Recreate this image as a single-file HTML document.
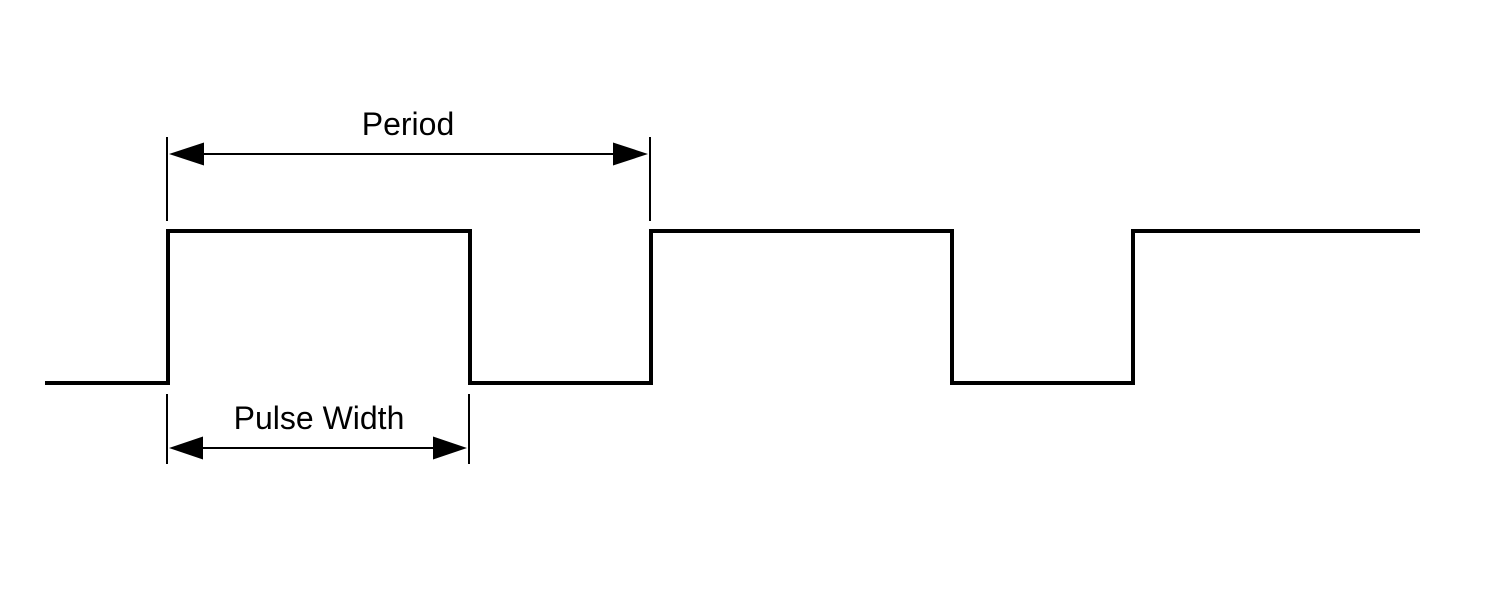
<!DOCTYPE html>
<html><head><meta charset="utf-8"><style>
html,body{margin:0;padding:0;background:#fff;}
svg{display:block;}
</style></head><body>
<svg width="1500" height="600" viewBox="0 0 1500 600" xmlns="http://www.w3.org/2000/svg">
<rect width="1500" height="600" fill="#fff"/>
<polyline points="45,383 168,383 168,231 470,231 470,383 651,383 651,231 952,231 952,383 1133,383 1133,231 1420,231" fill="none" stroke="#000" stroke-width="4" stroke-linejoin="miter" stroke-miterlimit="10"/>
<!-- Period -->
<line x1="167" y1="137" x2="167" y2="221" stroke="#000" stroke-width="2"/>
<line x1="650" y1="137" x2="650" y2="221" stroke="#000" stroke-width="2"/>
<line x1="200" y1="154" x2="618" y2="154" stroke="#000" stroke-width="2"/>
<polygon points="169,154 204,142.5 204,165.5" fill="#000"/>
<polygon points="648,154 613,142.5 613,165.5" fill="#000"/>
<text x="408" y="135" font-family="Liberation Sans, sans-serif" font-size="32" text-anchor="middle">Period</text>
<!-- Pulse width -->
<line x1="167" y1="394" x2="167" y2="464" stroke="#000" stroke-width="2"/>
<line x1="469" y1="394" x2="469" y2="464" stroke="#000" stroke-width="2"/>
<line x1="200" y1="448" x2="437" y2="448" stroke="#000" stroke-width="2"/>
<polygon points="169,448 203,436.5 203,459.5" fill="#000"/>
<polygon points="467,448 433,436.5 433,459.5" fill="#000"/>
<text x="319" y="429" font-family="Liberation Sans, sans-serif" font-size="32" text-anchor="middle">Pulse Width</text>
</svg>
</body></html>
